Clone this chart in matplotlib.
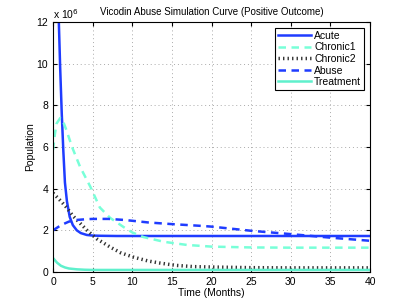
import matplotlib
matplotlib.use("Agg")
import matplotlib.pyplot as plt

plt.rcParams['font.family'] = ['Liberation Sans', 'DejaVu Sans']

# values in millions
t_acute = [0.4, 0.7, 0.9, 1.1, 1.3, 1.5, 1.75, 2.1, 2.5, 3.0, 3.5, 4.25, 5, 6, 8, 10, 15, 20, 25, 30, 35, 40]
acute = [15.0, 12.4, 9.8, 7.6, 5.8, 4.3, 3.4, 2.65, 2.25, 2.0, 1.87, 1.78, 1.75, 1.74, 1.73, 1.73, 1.73, 1.73, 1.73, 1.73, 1.73, 1.73]

t_chronic1 = [0, 0.25, 0.45, 0.9, 1.3, 1.7, 2.4, 3.4, 4.7, 5.9, 7.2, 8.9, 10, 11.4, 14, 16.9, 20, 25, 30, 35, 40]
chronic1 = [5.86, 6.66, 7.13, 7.39, 7.2, 6.8, 6.0, 5.06, 4.1, 3.1, 2.6, 2.16, 1.9, 1.68, 1.45, 1.3, 1.22, 1.18, 1.17, 1.17, 1.17]

t_chronic2 = [0, 1, 1.7, 2.5, 3.4, 4.3, 5.5, 7.2, 8.5, 10.1, 12, 13.5, 15.5, 17.7, 20, 25, 30, 35, 40]
chronic2 = [3.79, 3.4, 3.1, 2.7, 2.35, 2.0, 1.6, 1.2, 0.93, 0.72, 0.53, 0.43, 0.32, 0.26, 0.24, 0.21, 0.2, 0.2, 0.2]

t_abuse = [0, 1, 2, 3, 4, 5, 7, 9, 10, 12, 15, 18.5, 20, 25, 30, 35, 40]
abuse = [2.0, 2.25, 2.42, 2.5, 2.53, 2.55, 2.55, 2.5, 2.46, 2.38, 2.3, 2.22, 2.18, 1.98, 1.82, 1.65, 1.5]

t_treat = [0, 0.5, 1, 1.5, 2, 3, 4, 5, 7, 10, 20, 30, 40]
treatment = [0.67, 0.45, 0.3, 0.22, 0.17, 0.13, 0.11, 0.1, 0.1, 0.1, 0.1, 0.1, 0.1]

blue = '#1f3cff'
aqua = '#78ffd8'
aqua2 = '#5ff0cc'

fig = plt.figure(figsize=(4.08, 3.06), dpi=100)
ax = fig.add_axes([0.13, 0.111, 0.777, 0.817])

ax.plot(t_acute, [v * 1e6 for v in acute], color=blue, lw=1.8, label='Acute')
ax.plot(t_chronic1, [v * 1e6 for v in chronic1], color=aqua, lw=1.8, ls=(0, (3, 2.2)), label='Chronic1')
ax.plot(t_chronic2, [v * 1e6 for v in chronic2], color='#333333', lw=2.5, ls=(0, (0.4, 0.9)), label='Chronic2')
ax.plot(t_abuse, [v * 1e6 for v in abuse], color=blue, lw=1.8, ls=(0, (3, 2.2)), label='Abuse')
ax.plot(t_treat, [v * 1e6 for v in treatment], color=aqua2, lw=1.8, label='Treatment')

ax.set_xlim(0, 40)
ax.set_ylim(0, 12e6)
ax.set_xticks(range(0, 41, 5))
ax.set_yticks([i * 1e6 for i in range(0, 13, 2)])
ax.set_yticklabels([str(i) for i in range(0, 13, 2)])
ax.text(0, 1.005, r'x 10$^6$', transform=ax.transAxes, fontsize=7.5, ha='left', va='bottom')
ax.tick_params(direction='in', labelsize=7.5, length=3, top=True, right=True)
ax.grid(True, ls=(0, (1, 3)), color='#aaaaaa', lw=0.7)

ax.set_title('Vicodin Abuse Simulation Curve (Positive Outcome)', fontsize=7, pad=5)
ax.set_xlabel('Time (Months)', fontsize=7.5, labelpad=1)
ax.set_ylabel('Population', fontsize=7.5, labelpad=1)

leg = ax.legend(loc='upper right', fontsize=7.5, handlelength=3.2, handletextpad=0.3,
                labelspacing=0.15, borderpad=0.3, fancybox=False, framealpha=1,
                borderaxespad=0.55)
leg.get_frame().set_edgecolor('black')
leg.get_frame().set_linewidth(0.8)

fig.savefig('out.png', dpi=100)
